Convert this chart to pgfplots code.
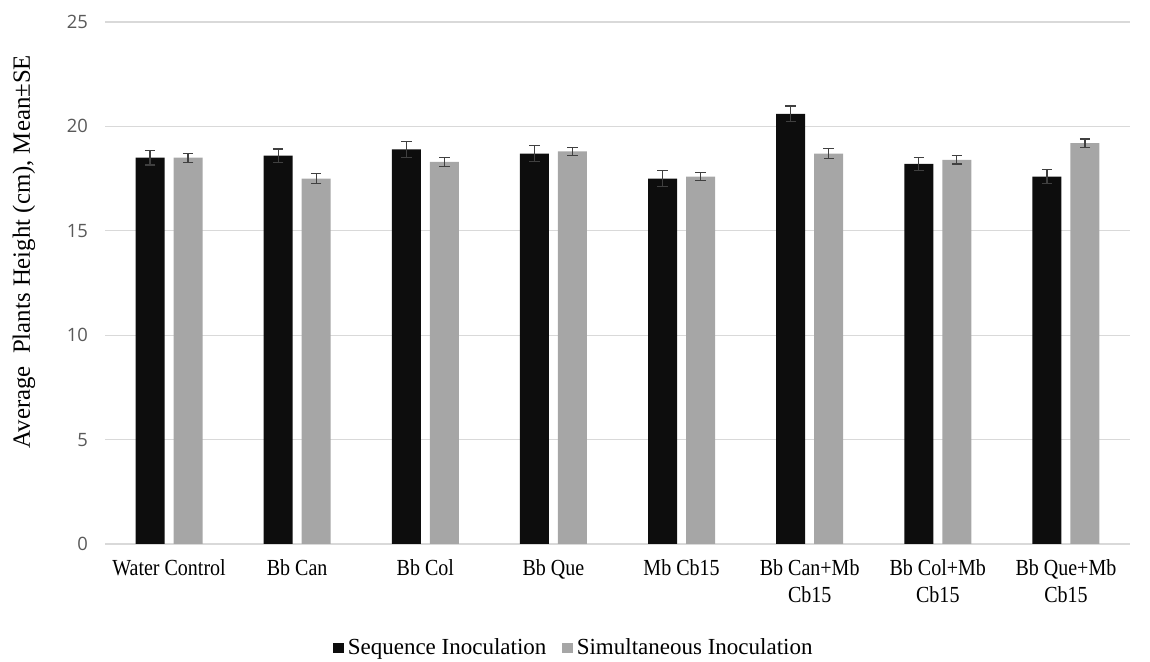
\documentclass[border=0pt]{standalone}
\usepackage{fontspec}
\setmainfont{Liberation Serif}
\newfontfamily\tickfont{Open Sans}
\usepackage{pgfplots}
\pgfplotsset{compat=1.18}
\usepackage{pgfplotstable}

\definecolor{seqcol}{HTML}{0D0D0D}
\definecolor{simcol}{HTML}{A6A6A6}
\definecolor{gridcol}{HTML}{D9D9D9}
\definecolor{tickcol}{HTML}{595959}
\definecolor{errcol}{HTML}{404040}

% Sequence inoculation: mean and standard error
\pgfplotstableread{
x val se
0 18.5 0.35
1 18.6 0.32
2 18.9 0.38
3 18.7 0.38
4 17.5 0.37
5 20.6 0.38
6 18.2 0.30
7 17.6 0.32
}\seqdata

% Simultaneous inoculation: mean and standard error
\pgfplotstableread{
x val se
0 18.5 0.22
1 17.5 0.25
2 18.3 0.22
3 18.8 0.18
4 17.6 0.20
5 18.7 0.25
6 18.4 0.20
7 19.2 0.20
}\simdata

\begin{document}
\begin{tikzpicture}
\useasboundingbox (0,0) rectangle (575pt,331pt);
\begin{axis}[
  at={(52.5pt,59pt)}, anchor=south west,
  scale only axis, width=512.5pt, height=261pt,
  ybar=4.5pt, bar width=14.5pt,
  ymin=0, ymax=25, ytick={0,5,...,25},
  xmin=-0.5, xmax=7.5, xtick={0,...,7},
  xticklabels={Water Control, Bb Can, Bb Col, Bb Que, Mb Cb15,
    {Bb Can+Mb\\Cb15}, {Bb Col+Mb\\Cb15}, {Bb Que+Mb\\Cb15}},
  xticklabel style={align=center, font=\fontsize{11.5}{13.5}\selectfont,
    text=black, xscale=0.87, yshift=-4pt},
  yticklabel style={font=\tickfont\fontsize{9.2}{10}\selectfont, text=tickcol, xshift=-5pt},
  /pgf/number format/assume math mode=true,
  axis line style={draw=none},
  major tick length=0pt,
  ymajorgrids, grid style={color=gridcol, line width=0.6pt},
  ylabel={Average\ \ Plants Height (cm), Mean±SE},
  ylabel style={at={(axis description cs:-0.079,0.56)}, anchor=center,
    font=\fontsize{12.4}{14}\selectfont},
  legend columns=2,
  legend style={draw=none, at={(axis description cs:0.4585,0)}, anchor=center,
    yshift=-52pt, font=\fontsize{11.5}{13}\selectfont,
    /tikz/every even column/.append style={column sep=6pt}},
  legend image code/.code={\fill (0pt,-2.6pt) rectangle (5.2pt,2.6pt);},
  error bars/error bar style={color=errcol, line width=0.6pt},
  error bars/error mark options={rotate=90, mark size=2.6pt, line width=0.6pt, color=errcol},
]
\addplot[fill=seqcol, draw=none,
  error bars/.cd, y dir=both, y explicit]
  table[x=x, y=val, y error=se] {\seqdata};
\addlegendentry{Sequence Inoculation}
\addplot[fill=simcol, draw=none,
  error bars/.cd, y dir=both, y explicit]
  table[x=x, y=val, y error=se] {\simdata};
\addlegendentry{Simultaneous Inoculation}
\end{axis}
\end{tikzpicture}
\end{document}
